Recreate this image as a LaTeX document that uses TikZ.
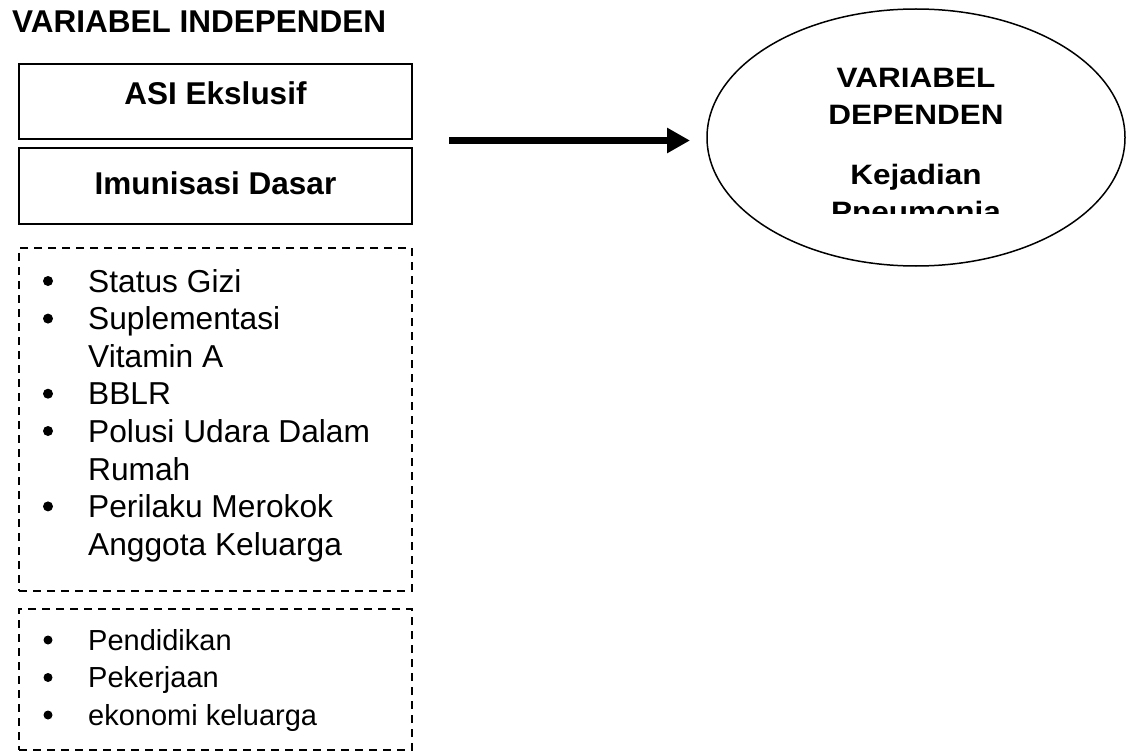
\documentclass[tikz,border=0pt]{standalone}
\usepackage{fontspec}
\setmainfont{Liberation Sans}
\usetikzlibrary{arrows.meta,shapes.geometric}
\begin{document}
\begin{tikzpicture}[x=1pt,y=-1pt,
  solidbox/.style={draw, line width=1.8pt, minimum width=393pt, minimum height=75pt, inner sep=0pt},
  dashbox/.style={draw, line width=1.4pt, dash pattern=on 8pt off 6pt, inner sep=0pt, minimum width=393pt},
  bigtxt/.style={inner sep=0pt, font=\fontsize{31.5}{37.6}\selectfont\bfseries},
  itemA/.style={inner sep=0pt, anchor=base west, font=\fontsize{31.7}{37.6}\selectfont},
  itemB/.style={inner sep=0pt, anchor=base west, font=\fontsize{29}{37.5}\selectfont},
  deptxt/.style={inner sep=0pt, anchor=base, font=\fontsize{31.5}{37}\selectfont\bfseries},
  bul/.style={fill=black, circle, inner sep=0pt, minimum size=10pt},
  bulB/.style={fill=black, circle, inner sep=0pt, minimum size=9pt}
]
\useasboundingbox (0,0) rectangle (1127,754);

% title
\node[bigtxt, anchor=base west] (title) at (12,33) {VARIABEL INDEPENDEN};

% solid boxes
\node[solidbox] (asi) at (215.5,101.5) {};
\node[bigtxt, anchor=base] (asitxt) at (215.5,105) {ASI Ekslusif};
\node[solidbox, minimum height=76pt] (imun) at (215.5,186) {};
\node[bigtxt, anchor=base] (imuntxt) at (215.5,195) {Imunisasi Dasar};

% dashed box 1
\node[dashbox, minimum height=343pt] (conf1) at (215.5,419.5) {};
\node[bul] (b1) at (48,281) {};
\node[itemA] (t1) at (88,292) {Status Gizi};
\node[bul] (b2) at (48,318.6) {};
\node[itemA] (t2) at (88,329.6) {Suplementasi};
\node[itemA] (t3) at (88,367) {Vitamin A};
\node[bul] (b4) at (48,393.7) {};
\node[itemA] (t4) at (88,404.7) {BBLR};
\node[bul] (b5) at (48,431) {};
\node[itemA] (t5) at (88,442) {Polusi Udara Dalam};
\node[itemA] (t6) at (88,480) {Rumah};
\node[bul] (b7) at (48,506.4) {};
\node[itemA] (t7) at (88,517.4) {Perilaku Merokok};
\node[itemA] (t8) at (88,555) {Anggota Keluarga};

% dashed box 2
\node[dashbox, minimum height=141pt] (conf2) at (215.5,679.5) {};
\node[bulB] (c1) at (48,640) {};
\node[itemB] (u1) at (88,650) {Pendidikan};
\node[bulB] (c2) at (48,677.5) {};
\node[itemB] (u2) at (88,687.5) {Pekerjaan};
\node[bulB] (c3) at (48,715) {};
\node[itemB] (u3) at (88,725) {ekonomi keluarga};

% arrow
\coordinate (as) at (449,140.5);
\coordinate (ae) at (690,140.5);
\draw[line width=7pt, -{Triangle[length=23pt,width=24pt]}] (as) -- (ae);

% ellipse
\node[draw, ellipse, line width=1.5pt, minimum width=418pt, minimum height=257pt, inner sep=0pt] (dep) at (916,137.5) {};
\node[deptxt] (d1) at (916,88) {\scalebox{1}[0.89]{VARIABEL}};
\node[deptxt] (d2) at (916,125) {\scalebox{1}[0.89]{DEPENDEN}};
\node[deptxt] (d3) at (916,185) {\scalebox{1}[0.89]{Kejadian}};
\begin{scope}
\clip (700,0) rectangle (1127,214);
\node[deptxt] (d4) at (916,222) {\scalebox{1}[0.89]{Pneumonia}};
\end{scope}
\end{tikzpicture}
\end{document}
